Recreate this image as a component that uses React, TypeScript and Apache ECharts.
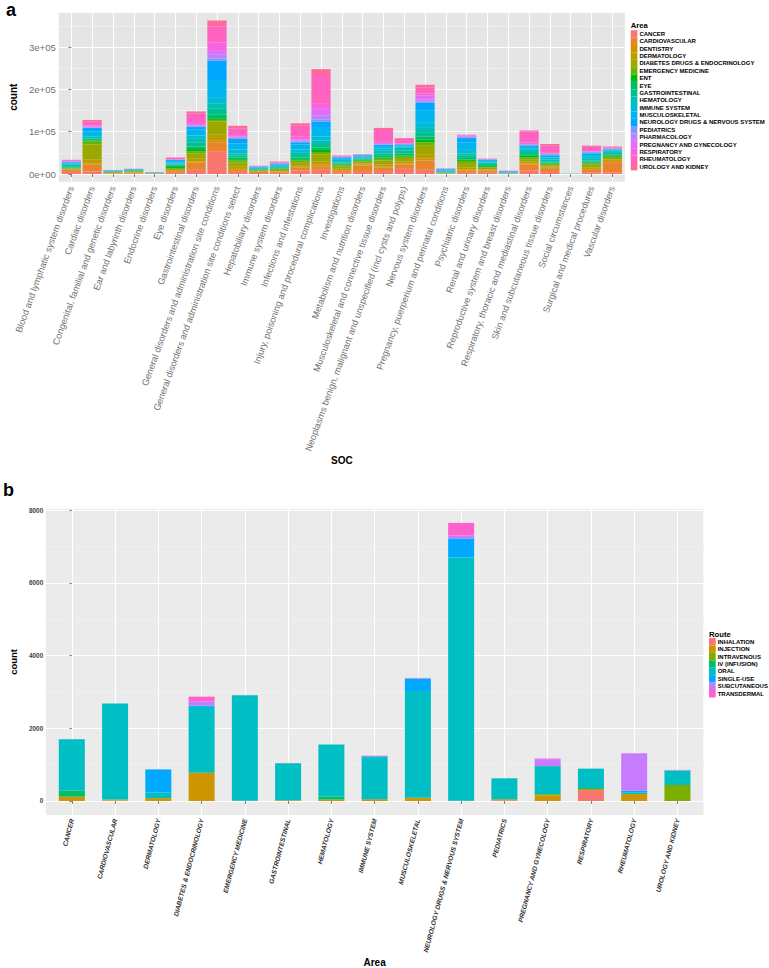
import React, { useEffect, useRef } from "react";
import * as echarts from "echarts";

// ---------- Chart a data ----------
const socCategories = [
  "Blood and lymphatic system disorders",
  "Cardiac disorders",
  "Congenital, familial and genetic disorders",
  "Ear and labyrinth disorders",
  "Endocrine disorders",
  "Eye disorders",
  "Gastrointestinal disorders",
  "General disorders and administration site conditions",
  "General disorders and administration site conditions select",
  "Hepatobiliary disorders",
  "Immune system disorders",
  "Infections and infestations",
  "Injury, poisoning and procedural complications",
  "Investigations",
  "Metabolism and nutrition disorders",
  "Musculoskeletal and connective tissue disorders",
  "Neoplasms benign, malignant and unspecified (incl cysts and polyps)",
  "Nervous system disorders",
  "Pregnancy, puerperium and perinatal conditions",
  "Psychiatric disorders",
  "Renal and urinary disorders",
  "Reproductive system and breast disorders",
  "Respiratory, thoracic and mediastinal disorders",
  "Skin and subcutaneous tissue disorders",
  "Social circumstances",
  "Surgical and medical procedures",
  "Vascular disorders",
];

const areaNames = [
  "CANCER",
  "CARDIOVASCULAR",
  "DENTISTRY",
  "DERMATOLOGY",
  "DIABETES DRUGS & ENDOCRINOLOGY",
  "EMERGENCY MEDICINE",
  "ENT",
  "EYE",
  "GASTROINTESTINAL",
  "HEMATOLOGY",
  "IMMUNE SYSTEM",
  "MUSCULOSKELETAL",
  "NEUROLOGY DRUGS & NERVOUS SYSTEM",
  "PEDIATRICS",
  "PHARMACOLOGY",
  "PREGNANCY AND GYNECOLOGY",
  "RESPIRATORY",
  "RHEUMATOLOGY",
  "UROLOGY AND KIDNEY",
];

const socCancer = [5000, 6000, 1000, 1500, 300, 3000, 10000, 54000, 5000, 2500, 3000, 8000, 10000, 3000, 5000, 7000, 14000, 10000, 500, 3000, 3000, 500, 8000, 5000, 50, 4000, 4000];
const socCardiovascular = [5000, 16000, 1000, 2000, 300, 4000, 17000, 20000, 5000, 2000, 2500, 7000, 8000, 5000, 15000, 9000, 8000, 22000, 500, 5000, 5000, 300, 14000, 9000, 50, 6000, 24000];
const socDentistry = [500, 3000, 200, 200, 100, 500, 3000, 6000, 2000, 500, 500, 2000, 4000, 1500, 2000, 2000, 3000, 5000, 200, 2000, 1000, 100, 3000, 1000, 20, 2000, 3000];
const socDermatology = [500, 10000, 300, 300, 100, 1500, 6000, 14000, 5000, 1000, 1000, 4000, 8000, 3000, 3000, 5000, 5000, 10000, 300, 6000, 2000, 300, 4000, 3000, 20, 4000, 3000];
const socDiabetes = [2000, 35000, 1000, 1500, 800, 3000, 12000, 30000, 10000, 2000, 2500, 7000, 16000, 5000, 4000, 9000, 8000, 20000, 500, 10000, 4000, 300, 6000, 3000, 50, 6000, 4000];
const socEmergency = [1000, 7000, 800, 1000, 300, 2000, 6000, 4000, 5000, 1000, 1500, 4000, 6000, 3000, 2000, 4000, 3000, 8000, 500, 5000, 2000, 200, 4000, 2000, 50, 3000, 3000];
const socEnt = [1000, 2000, 500, 1500, 200, 2500, 5000, 4000, 3000, 800, 1500, 3000, 5000, 2000, 1500, 3000, 3000, 6000, 300, 3000, 2000, 200, 4000, 2000, 50, 2000, 2000];
const socEye = [500, 1500, 300, 300, 100, 3000, 6000, 8000, 4000, 700, 1000, 4000, 6000, 2000, 1500, 4000, 4000, 8000, 300, 4000, 2000, 200, 4000, 2000, 50, 2000, 3000];
const socGastro = [3000, 3500, 1200, 1000, 400, 3000, 10000, 14000, 5000, 1500, 2500, 6000, 8000, 3000, 2500, 6000, 8000, 10000, 1000, 5000, 3000, 300, 5000, 3000, 100, 3000, 4000];
const socHematology = [4000, 4000, 800, 600, 400, 2500, 8000, 12000, 5000, 1500, 2500, 5000, 8000, 3000, 2500, 6000, 6000, 10000, 1500, 6000, 3000, 500, 5000, 4000, 150, 4000, 4000];
const socImmune = [2000, 4000, 500, 500, 300, 2000, 8000, 14000, 9000, 1200, 2000, 8000, 10000, 3000, 2000, 5000, 3000, 12000, 2500, 10000, 3000, 800, 4000, 5000, 150, 6000, 2000];
const socMusculo = [3000, 9000, 700, 800, 300, 3500, 14000, 40000, 14000, 1500, 2500, 12000, 20000, 4000, 2000, 6000, 3000, 30000, 2500, 16000, 3000, 1000, 5000, 5000, 200, 7000, 2000];
const socNeurology = [1500, 8000, 500, 600, 300, 2500, 6000, 48000, 11000, 1000, 1500, 5000, 15000, 2000, 1500, 3000, 2000, 17000, 1000, 10000, 1000, 1500, 2000, 2000, 150, 2000, 1000];
const socPediatrics = [300, 1000, 200, 200, 300, 500, 2000, 5000, 2000, 300, 500, 2000, 5000, 500, 500, 1000, 500, 3000, 500, 2000, 300, 1000, 1000, 500, 100, 500, 500];
const socPharmacology = [300, 1000, 100, 100, 100, 500, 2000, 9000, 2000, 300, 500, 2000, 10000, 500, 300, 1000, 500, 5000, 200, 2000, 200, 300, 1000, 500, 20, 500, 500];
const socPregnancy = [500, 1500, 100, 100, 100, 500, 3000, 11000, 2000, 300, 500, 3000, 15000, 500, 300, 2000, 500, 9000, 300, 2000, 500, 200, 1000, 1000, 20, 1000, 1000];
const socRespiratory = [1000, 3000, 100, 100, 100, 1000, 5000, 18000, 3000, 500, 1000, 6000, 12000, 1000, 500, 3000, 1500, 5000, 200, 1000, 500, 100, 4000, 2000, 20, 1000, 1000];
const socRheumatology = [2000, 8000, 200, 200, 100, 2500, 20000, 38000, 16000, 700, 1500, 26000, 68000, 1500, 1000, 28000, 10000, 15000, 400, 1000, 500, 200, 26000, 18000, 20, 12000, 2000];
const socUrology = [500, 4500, 100, 100, 100, 1100, 5000, 14000, 6000, 400, 1000, 6000, 14000, 500, 100, 5000, 2000, 6000, 400, 0, 500, 200, 2000, 3000, 20, 1000, 1000];

const countTicksA = [0, 100000, 200000, 300000];
const countTickLabelsA = ["0e+00", "1e+05", "2e+05", "3e+05"];
const countMinorA = [50000, 150000, 250000, 350000];

// ---------- Chart b data ----------
const routeAreas = [
  "CANCER",
  "CARDIOVASCULAR",
  "DERMATOLOGY",
  "DIABETES & ENDOCRINOLOGY",
  "EMERGENCY MEDICINE",
  "GASTROINTESTINAL",
  "HEMATOLOGY",
  "IMMUNE SYSTEM",
  "MUSCULOSKELETAL",
  "NEUROLOGY DRUGS & NERVOUS SYSTEM",
  "PEDIATRICS",
  "PREGNANCY AND GYNECOLOGY",
  "RESPIRATORY",
  "RHEUMATOLOGY",
  "UROLOGY AND KIDNEY",
];
const routeNames = ["INHALATION", "INJECTION", "INTRAVENOUS", "IV (INFUSION)", "ORAL", "SINGLE-USE", "SUBCUTANEOUS", "TRANSDERMAL"];

const routeInhalation = [0, 15, 0, 0, 0, 0, 0, 0, 0, 0, 20, 0, 300, 0, 0];
const routeInjection = [120, 25, 80, 778, 5, 20, 40, 50, 90, 10, 30, 150, 30, 190, 0];
const routeIntravenous = [0, 0, 0, 0, 0, 0, 0, 0, 0, 0, 0, 40, 0, 0, 440];
const routeIvInfusion = [170, 0, 0, 0, 0, 0, 85, 0, 0, 0, 0, 0, 25, 0, 0];
const routeOral = [1410, 2640, 154, 1810, 2900, 1020, 1430, 1150, 2933, 6687, 574, 770, 535, 50, 400];
const routeSingleUse = [0, 0, 634, 37, 0, 0, 0, 30, 344, 525, 0, 0, 0, 40, 0];
const routeSubcutaneous = [0, 0, 0, 117, 0, 0, 0, 0, 18, 81, 0, 190, 0, 1030, 15];
const routeTransdermal = [0, 0, 0, 127, 0, 0, 0, 15, 0, 344, 0, 18, 0, 0, 0];

const countTicksB = [0, 2000, 4000, 6000, 8000];
const countMinorB = [1000, 3000, 5000, 7000];

// ---------- helpers ----------
function hclHex(h: number, c: number, l: number): string {
  const hr = (h * Math.PI) / 180;
  const U = c * Math.cos(hr);
  const V = c * Math.sin(hr);
  const Xn = 95.047, Yn = 100, Zn = 108.883;
  const Y = l > 8 ? Yn * Math.pow((l + 16) / 116, 3) : (Yn * l) / 903.3;
  const t = Xn + 15 * Yn + 3 * Zn;
  const un = (4 * Xn) / t, vn = (9 * Yn) / t;
  const u = U / (13 * l) + un;
  const v = V / (13 * l) + vn;
  const X = (9 * Y * u) / (4 * v);
  const Z = -X / 3 - 5 * Y + (3 * Y) / v;
  const x = X / 100, y = Y / 100, z = Z / 100;
  const lin = [
    3.240479 * x - 1.53715 * y - 0.498535 * z,
    -0.969256 * x + 1.875992 * y + 0.041556 * z,
    0.055648 * x - 0.204043 * y + 1.057311 * z,
  ];
  return (
    "#" +
    lin
      .map((q) => {
        let s = q <= 0.0031308 ? 12.92 * q : 1.055 * Math.pow(q, 1 / 2.4) - 0.055;
        s = Math.max(0, Math.min(1, s));
        return Math.round(s * 255).toString(16).padStart(2, "0");
      })
      .join("")
  );
}
function huePal(n: number): string[] {
  const out: string[] = [];
  const end = 375 - 360 / n;
  for (let i = 0; i < n; i++) out.push(hclHex(15 + ((end - 15) * i) / (n - 1), 100, 65));
  return out;
}

const FONT = "Liberation Sans, Arial, Helvetica, sans-serif";

export default function App() {
  const ref = useRef<HTMLDivElement>(null);
  useEffect(() => {
    document.body.style.margin = "0";
    if (!ref.current) return;
    const chart = echarts.init(ref.current, undefined, { renderer: "svg" });

    const areaValues = [
      socCancer, socCardiovascular, socDentistry, socDermatology, socDiabetes, socEmergency, socEnt, socEye,
      socGastro, socHematology, socImmune, socMusculo, socNeurology, socPediatrics, socPharmacology,
      socPregnancy, socRespiratory, socRheumatology, socUrology,
    ];
    const routeValues = [
      routeInhalation, routeInjection, routeIntravenous, routeIvInfusion, routeOral, routeSingleUse,
      routeSubcutaneous, routeTransdermal,
    ];
    const areaColors = huePal(areaNames.length);
    const routeColors = huePal(routeNames.length);

    const catIdxA = socCategories.map((_, i) => i);
    const catIdxB = routeAreas.map((_, i) => i);

    const majorLine = { show: true, lineStyle: { color: "#FFFFFF", width: 1.1 } };
    const minorLine = { show: true, lineStyle: { color: "#F3F3F3", width: 0.6 } };

    // value first so that the count dimension is the stacked one; position second
    const seriesA = areaNames.map((name, k) => ({
      type: "bar",
      name,
      stack: "soc",
      xAxisIndex: 0,
      yAxisIndex: 0,
      barWidth: 19.2,
      encode: { x: 1, y: 0 },
      data: areaValues[k].map((v, i) => [v, i]),
      itemStyle: { color: areaColors[k] },
    }));
    const seriesB = routeNames.map((name, k) => ({
      type: "bar",
      name,
      stack: "route",
      xAxisIndex: 1,
      yAxisIndex: 2,
      barWidth: 26,
      encode: { x: 1, y: 0 },
      data: routeValues[k].map((v, i) => [v, i]),
      itemStyle: { color: routeColors[k] },
    }));

    chart.setOption({
      animation: false,
      textStyle: { fontFamily: FONT },
      grid: [
        { left: 46.2, top: 12.8, width: 578.6, height: 168.9, show: true, backgroundColor: "#E5E5E5", borderWidth: 0 },
        { left: 34.6, top: 509, width: 668.8, height: 309, show: true, backgroundColor: "#EBEBEB", borderWidth: 0 },
      ],
      xAxis: [
        {
          type: "value",
          gridIndex: 0,
          min: -0.6,
          max: socCategories.length - 0.4,
          name: "SOC",
          nameLocation: "middle",
          nameGap: 270,
          nameTextStyle: { fontSize: 10, fontWeight: "bold", color: "#000", fontFamily: FONT },
          axisLine: { show: false },
          axisTick: { show: true, length: 3, customValues: catIdxA, lineStyle: { color: "#7F7F7F" } },
          axisLabel: {
            customValues: catIdxA,
            formatter: (v: number) => socCategories[Math.round(v)] ?? "",
            rotate: 70,
            margin: 5,
            fontSize: 9.2,
            color: "#707070",
            fontFamily: FONT,
          },
          splitLine: majorLine,
        },
        {
          type: "value",
          gridIndex: 1,
          min: -0.6,
          max: routeAreas.length - 0.4,
          name: "Area",
          nameLocation: "middle",
          nameGap: 140,
          nameTextStyle: { fontSize: 10, fontWeight: "bold", color: "#000", fontFamily: FONT },
          axisLine: { show: false },
          axisTick: { show: true, length: 3, customValues: catIdxB, lineStyle: { color: "#7F7F7F" } },
          axisLabel: {
            customValues: catIdxB,
            formatter: (v: number) => routeAreas[Math.round(v)] ?? "",
            rotate: 75,
            margin: 4,
            fontSize: 6.6,
            fontWeight: "bold",
            fontStyle: "italic",
            color: "#333333",
            fontFamily: FONT,
          },
          splitLine: majorLine,
        },
      ],
      yAxis: [
        {
          type: "value",
          gridIndex: 0,
          min: -18150,
          max: 381150,
          name: "count",
          nameLocation: "middle",
          nameGap: 35,
          nameTextStyle: { fontSize: 10, fontWeight: "bold", color: "#000", fontFamily: FONT },
          axisLine: { show: false },
          axisTick: { show: true, length: 3, customValues: countTicksA, lineStyle: { color: "#7F7F7F" } },
          axisLabel: {
            customValues: countTicksA,
            formatter: (v: number) => countTickLabelsA[countTicksA.indexOf(v)] ?? "",
            margin: 3,
            fontSize: 9.6,
            color: "#707070",
            fontFamily: FONT,
          },
          splitLine: majorLine,
        },
        {
          type: "value",
          gridIndex: 0,
          position: "left",
          min: -18150,
          max: 381150,
          axisLine: { show: false },
          axisTick: { show: false, customValues: countMinorA },
          axisLabel: { show: false, customValues: countMinorA },
          splitLine: minorLine,
        },
        {
          type: "value",
          gridIndex: 1,
          min: -382,
          max: 8030,
          name: "count",
          nameLocation: "middle",
          nameGap: 17,
          nameTextStyle: { fontSize: 9.5, fontWeight: "bold", color: "#000", fontFamily: FONT },
          axisLine: { show: false },
          axisTick: { show: true, length: 2.5, customValues: countTicksB, lineStyle: { color: "#7F7F7F" } },
          axisLabel: {
            customValues: countTicksB,
            formatter: (v: number) => String(v),
            margin: 2.5,
            fontSize: 6.5,
            fontWeight: "bold",
            color: "#444444",
            fontFamily: FONT,
          },
          splitLine: majorLine,
        },
        {
          type: "value",
          gridIndex: 1,
          position: "left",
          min: -382,
          max: 8030,
          axisLine: { show: false },
          axisTick: { show: false, customValues: countMinorB },
          axisLabel: { show: false, customValues: countMinorB },
          splitLine: minorLine,
        },
      ],
      legend: [
        {
          data: areaNames,
          orient: "vertical",
          left: 630.7,
          top: 30.3,
          padding: 0,
          itemGap: 0,
          itemWidth: 6.7,
          itemHeight: 7.37,
          icon: "rect",
          selectedMode: false,
          textStyle: { fontSize: 6, fontWeight: "bold", color: "#000", fontFamily: FONT, padding: [0, 0, 0, -3] },
        },
        {
          data: routeNames,
          orient: "vertical",
          left: 709,
          top: 638,
          padding: 0,
          itemGap: 0,
          itemWidth: 6.7,
          itemHeight: 7.43,
          icon: "rect",
          selectedMode: false,
          textStyle: { fontSize: 6, fontWeight: "bold", color: "#000", fontFamily: FONT, padding: [0, 0, 0, -3] },
        },
      ],
      graphic: [
        { type: "text", x: 6, y: 1, style: { text: "a", font: `bold 18px ${FONT}`, lineHeight: 18, fill: "#000", verticalAlign: "top" } },
        { type: "text", x: 3, y: 481, style: { text: "b", font: `bold 18px ${FONT}`, lineHeight: 18, fill: "#000", verticalAlign: "top" } },
        { type: "text", x: 630.7, y: 25.7, style: { text: "Area", font: `bold 7.7px ${FONT}`, fill: "#000", verticalAlign: "middle" } },
        { type: "text", x: 709, y: 634, style: { text: "Route", font: `bold 7.7px ${FONT}`, fill: "#000", verticalAlign: "middle" } },
      ],
      series: [...seriesA, ...seriesB],
    });
    return () => chart.dispose();
  }, []);
  return <div ref={ref} style={{ width: 769, height: 968 }} />;
}
